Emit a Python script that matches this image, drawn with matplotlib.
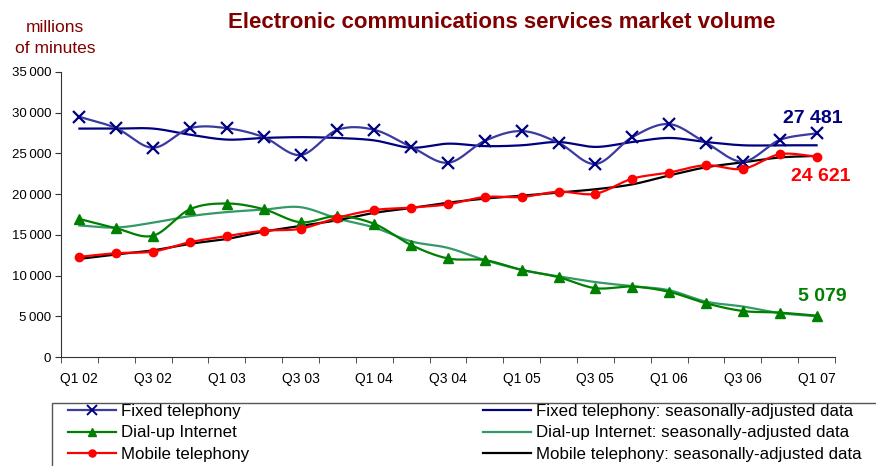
import numpy as np
import matplotlib
matplotlib.use("Agg")
from matplotlib import pyplot as plt
from matplotlib.patches import Rectangle
from matplotlib.ticker import FuncFormatter

plt.rcParams['font.family'] = ['Liberation Sans', 'DejaVu Sans']

# quarters Q1 02 .. Q1 07
quarters = ["Q1 02", "Q2 02", "Q3 02", "Q4 02",
            "Q1 03", "Q2 03", "Q3 03", "Q4 03",
            "Q1 04", "Q2 04", "Q3 04", "Q4 04",
            "Q1 05", "Q2 05", "Q3 05", "Q4 05",
            "Q1 06", "Q2 06", "Q3 06", "Q4 06",
            "Q1 07"]

fixed = [29500, 28100, 25700, 28100, 28100, 27000, 24800, 27900, 27900, 25800,
         23850, 26550, 27750, 26300, 23700, 27000, 28600, 26300, 24000, 26650, 27481]
fixed_sa = [28050, 28050, 28050, 27300, 26700, 26900, 27000, 26900, 26600, 25700,
            26200, 25900, 26000, 26400, 25800, 26400, 26900, 26400, 26000, 26000, 26000]
dialup = [16950, 15800, 14900, 18150, 18850, 18150, 16550, 17300, 16350, 13750,
          12100, 11900, 10700, 9800, 8450, 8650, 8000, 6600, 5650, 5450, 5079]
dialup_sa = [16150, 15900, 16500, 17300, 17800, 18100, 18400, 17000, 15900, 14200,
             13400, 11900, 10700, 9900, 9200, 8700, 8200, 6800, 6200, 5400, 5000]
mobile = [12300, 12750, 12950, 14100, 14850, 15500, 15750, 17100, 18050, 18350,
          18750, 19650, 19650, 20300, 20050, 21900, 22650, 23550, 23100, 24900, 24621]
mobile_sa = [12050, 12600, 13100, 13900, 14500, 15400, 16100, 16800, 17700, 18300,
             18950, 19450, 19800, 20200, 20600, 21200, 22300, 23300, 23900, 24500, 24700]

DARKRED = "#800000"


def smooth(x, y, n=16):
    # Catmull-Rom style curve through the points (like Excel "smoothed line")
    x = np.asarray(x, float)
    y = np.asarray(y, float)
    px = np.concatenate([[2 * x[0] - x[1]], x, [2 * x[-1] - x[-2]]])
    py = np.concatenate([[2 * y[0] - y[1]], y, [2 * y[-1] - y[-2]]])
    xs, ys = [], []
    t = np.linspace(0, 1, n, endpoint=False)
    for i in range(1, len(px) - 2):
        for p, out in ((px, xs), (py, ys)):
            p0, p1, p2, p3 = p[i - 1], p[i], p[i + 1], p[i + 2]
            out.append(0.5 * (2 * p1 + (-p0 + p2) * t
                              + (2 * p0 - 5 * p1 + 4 * p2 - p3) * t ** 2
                              + (-p0 + 3 * p1 - 3 * p2 + p3) * t ** 3))
    xs.append([x[-1]])
    ys.append([y[-1]])
    return np.concatenate(xs), np.concatenate(ys)


fig = plt.figure(figsize=(8.76, 4.66), dpi=100)
ax = fig.add_axes([61 / 876, 1 - 357 / 466, 774 / 876, 285 / 466])

x = np.arange(len(quarters))

series = [
    (fixed_sa, "#000080", "Fixed telephony: seasonally-adjusted data"),
    (dialup_sa, "#339966", "Dial-up Internet: seasonally-adjusted data"),
    (mobile_sa, "black", "Mobile telephony: seasonally-adjusted data"),
]
raw = [
    (fixed, "#3a3aa0", "#000080", "x", 9, "Fixed telephony"),
    (dialup, "#008000", "#008000", "^", 7, "Dial-up Internet"),
    (mobile, "#ff0000", "#ff0000", "o", 6, "Mobile telephony"),
]

handles_sa = []
for vals, col, lab in series:
    sx, sy = smooth(x, vals)
    h, = ax.plot(sx, sy, color=col, lw=1.6, label=lab)
    handles_sa.append(h)

handles_raw = []
for vals, lcol, mcol, mk, ms, lab in raw:
    sx, sy = smooth(x, vals)
    ax.plot(sx, sy, color=lcol, lw=1.6)
    ax.plot(x, vals, ls="none", marker=mk, ms=ms, color=mcol, mec=mcol,
            mew=1.6 if mk == "x" else 1)
    h, = ax.plot([], [], color=lcol, lw=1.6, marker=mk, ms=ms * 0.85,
                 mfc=mcol, mec=mcol, mew=1.4 if mk == "x" else 1, label=lab)
    handles_raw.append(h)

ax.set_xlim(-0.5, len(quarters) - 0.5)
ax.set_ylim(0, 35000)
ax.set_yticks(np.arange(0, 35001, 5000))
ax.yaxis.set_major_formatter(FuncFormatter(
    lambda v, p: f"{int(v):,}".replace(",", "\u2009")))
ax.set_xticks(x[::2])
ax.set_xticklabels(quarters[::2])
ax.set_xticks(np.arange(-0.5, len(quarters), 1), minor=True)
ax.tick_params(axis="x", which="major", length=0, pad=11, labelsize=10)
ax.tick_params(axis="x", which="minor", length=4, color="#333333")
ax.tick_params(axis="y", length=4, color="#333333", labelsize=9.5, pad=3)
for s in ("top", "right"):
    ax.spines[s].set_visible(False)
for s in ("left", "bottom"):
    ax.spines[s].set_color("#333333")

# end labels
ax.annotate(f"{fixed[-1]:,}".replace(",", " "), (x[-1], fixed[-1]),
            xytext=(-3, 4.5), textcoords="offset points", ha="center",
            va="bottom", color="#000080", fontsize=14, fontweight="bold")
ax.annotate(f"{mobile[-1]:,}".replace(",", " "), (x[-1], mobile[-1]),
            xytext=(3, -8.5), textcoords="offset points", ha="center",
            va="top", color="#ff0000", fontsize=14, fontweight="bold")
ax.annotate(f"{dialup[-1]:,}".replace(",", " "), (x[-1], dialup[-1]),
            xytext=(4, 8), textcoords="offset points", ha="center",
            va="bottom", color="#008000", fontsize=14, fontweight="bold")

fig.text(502 / 876, 1 - 22 / 466, "Electronic communications services market volume",
         ha="center", va="center", fontsize=16, fontweight="bold", color=DARKRED)
fig.text(55 / 876, 1 - 38 / 466, "millions\nof minutes", ha="center",
         va="center", fontsize=12.5, color=DARKRED, linespacing=1.55)

# legend box running off the figure edge
fig.patches.append(Rectangle((52 / 876, -0.05), 0.99, 1 - 403 / 466 + 0.05,
                             transform=fig.transFigure, fill=False,
                             edgecolor="#555555", lw=1))
leg_kw = dict(loc="upper left", frameon=False, fontsize=12.2, handlelength=2.85,
              handletextpad=0.3, labelspacing=0.38, borderpad=0, borderaxespad=0)
fig.legend(handles=handles_raw, bbox_to_anchor=(68 / 876, 1 - 404 / 466), **leg_kw)
fig.legend(handles=handles_sa, bbox_to_anchor=(483 / 876, 1 - 404 / 466), **leg_kw)

fig.savefig("out.png", dpi=100)
